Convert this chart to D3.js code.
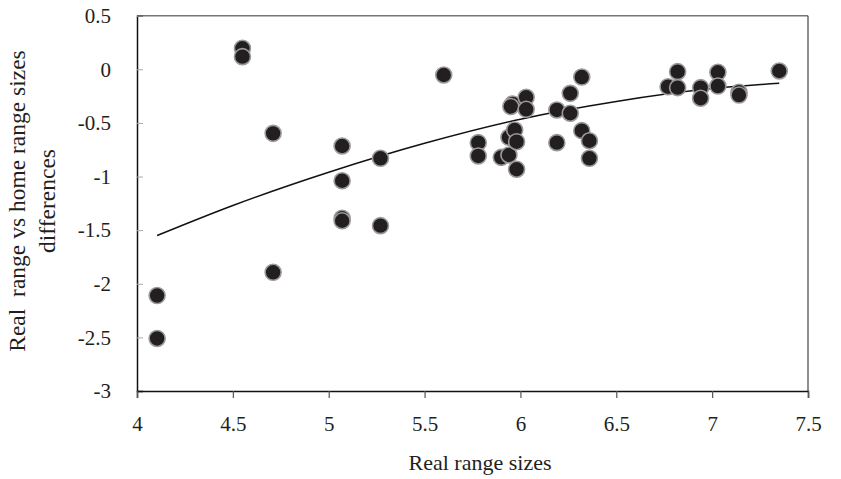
<!DOCTYPE html>
<html><head><meta charset="utf-8">
<script src="https://cdn.jsdelivr.net/npm/d3@7"></script>
<style>body{margin:0;background:#fff}text{font-family:"Liberation Serif","DejaVu Serif",serif;fill:#231f20}</style>
</head><body><svg id="c" width="841" height="479"></svg>
<script>
const xVals = [4.105,4.105,4.55,4.55,4.71,4.71,5.07,5.07,5.07,5.07,5.27,5.27,5.60,5.78,5.78,5.90,5.94,5.94,5.97,5.98,5.98,5.96,5.95,6.03,6.03,6.19,6.19,6.26,6.26,6.32,6.32,6.36,6.36,6.77,6.82,6.82,6.94,6.94,7.03,7.03,7.14,7.14,7.35];
const yVals = [-2.11,-2.51,0.196,0.118,-0.597,-1.893,-0.715,-1.039,-1.389,-1.412,-0.830,-1.458,-0.053,-0.684,-0.808,-0.821,-0.799,-0.634,-0.566,-0.675,-0.932,-0.323,-0.347,-0.261,-0.373,-0.379,-0.684,-0.224,-0.410,-0.072,-0.572,-0.666,-0.830,-0.162,-0.022,-0.171,-0.171,-0.270,-0.028,-0.156,-0.214,-0.240,-0.016];
const trendX = [4.105,4.5,5.0,5.5,6.0,6.5,7.0,7.35];
const trendY = [-1.55,-1.27,-0.96,-0.69,-0.465,-0.30,-0.18,-0.13];
const xTicks = [4,4.5,5,5.5,6,6.5,7,7.5];
const yTicks = [0.5,0,-0.5,-1,-1.5,-2,-2.5,-3];
const xTitle = "Real range sizes";
const yTitle = ["Real  range vs home range sizes","differences"];

const svg = d3.select("#c");
const L=137, R=808, T=15.7, B=391;
const x = d3.scaleLinear().domain([4,7.5]).range([L,R]);
const y = d3.scaleLinear().domain([-3,0.5]).range([B,T]);

// frame
svg.append("line").attr("x1",L).attr("x2",R).attr("y1",T).attr("y2",T).attr("stroke","#777").attr("stroke-width",1.5);
svg.append("line").attr("x1",R).attr("x2",R).attr("y1",T).attr("y2",B).attr("stroke","#444").attr("stroke-width",1.2);

// y axis
const ya = svg.append("g").attr("transform",`translate(${L},0)`)
  .call(d3.axisLeft(y).tickValues(yTicks).tickSize(-6).tickPadding(26).tickFormat(d=>String(d)));
ya.select(".domain").attr("stroke","#111").attr("stroke-width",1.5);
ya.selectAll(".tick line").attr("stroke","#aaa").attr("stroke-width",1);
ya.selectAll(".tick text").attr("font-size",21).attr("fill","#231f20").style("font-family","'Liberation Serif',serif");

// x axis
const xa = svg.append("g").attr("transform",`translate(0,${B})`)
  .call(d3.axisBottom(x).tickValues(xTicks).tickSize(7).tickPadding(18).tickFormat(d=>String(d)));
xa.select(".domain").attr("stroke","#111").attr("stroke-width",1.5);
xa.selectAll(".tick line").attr("stroke","#555").attr("stroke-width",1.2);
xa.selectAll(".tick text").attr("font-size",21).attr("fill","#231f20").style("font-family","'Liberation Serif',serif");

// trend line
const line = d3.line().x(d=>x(d[0])).y(d=>y(d[1])).curve(d3.curveMonotoneX);
svg.append("path").datum(d3.zip(trendX,trendY)).attr("d",line).attr("fill","none").attr("stroke","#111").attr("stroke-width",1.5);

// points
svg.append("g").selectAll("circle").data(d3.zip(xVals,yVals)).join("circle")
  .attr("cx",d=>x(d[0])).attr("cy",d=>y(d[1])).attr("r",8)
  .attr("fill","#231f20").attr("stroke","#9a9a9a").attr("stroke-width",1.6);

// titles
svg.append("text").attr("x",480).attr("y",470).attr("text-anchor","middle").attr("font-size",22).text(xTitle);
const yt = svg.append("text").attr("transform","translate(0,201) rotate(-90)").attr("text-anchor","middle").attr("font-size",23.5);
yt.append("tspan").attr("x",0).attr("y",25).style("white-space","pre").text(yTitle[0]);
yt.append("tspan").attr("x",0).attr("y",55).text(yTitle[1]);
</script></body></html>
